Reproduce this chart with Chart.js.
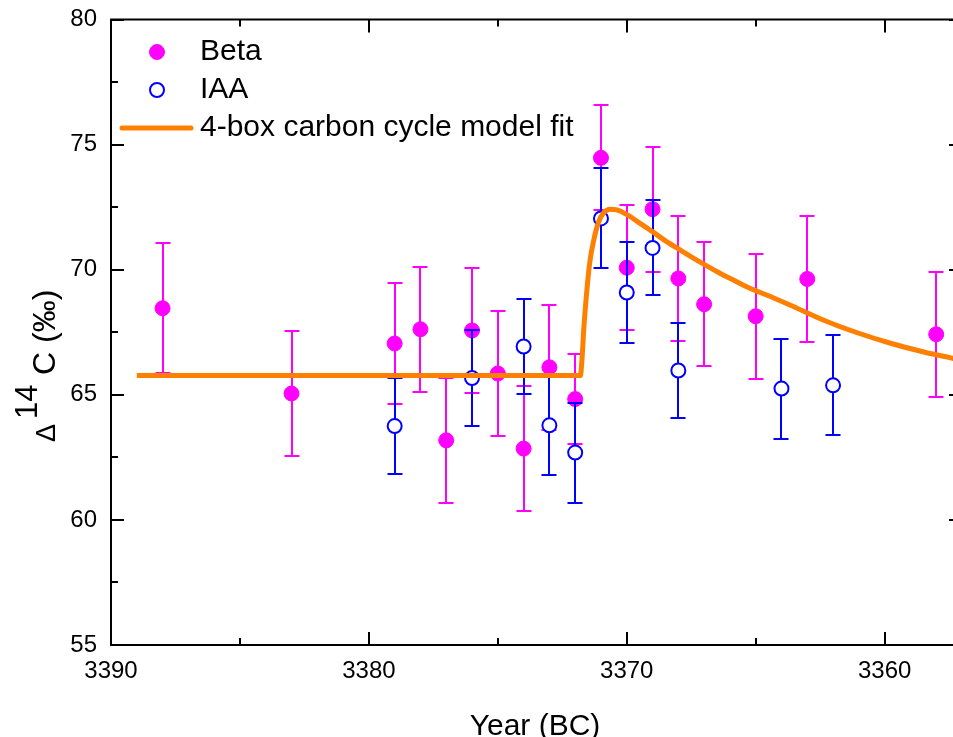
<!DOCTYPE html>
<html>
<head>
<meta charset="utf-8">
<script src="https://cdn.jsdelivr.net/npm/chart.js@4.4.1/dist/chart.umd.min.js"></script>
<style>
  html, body { margin: 0; padding: 0; background: #fff; overflow: hidden; }
  #wrap { width: 971px; height: 737px; }
</style>
</head>
<body>
<div id="wrap"><canvas id="myChart" width="971" height="737"></canvas></div>
<script>
// Beta measurements
var beta_years = [3388, 3383, 3379, 3378, 3377, 3376, 3375, 3374, 3373, 3372, 3371, 3370, 3369, 3368, 3367, 3365, 3363, 3358];
var beta_values = [68.46, 65.05, 67.05, 67.62, 63.18, 67.57, 65.85, 62.85, 66.10, 64.83, 74.47, 70.08, 72.42, 69.65, 68.62, 68.14, 69.63, 67.42];
var beta_errors = [2.6, 2.5, 2.4, 2.5, 2.5, 2.48, 2.5, 2.5, 2.5, 1.8, 2.1, 2.5, 2.5, 2.5, 2.48, 2.5, 2.5, 2.5];

// IAA measurements
var iaa_years = [3379, 3376, 3374, 3373, 3372, 3371, 3370, 3369, 3368, 3364, 3362];
var iaa_values = [63.75, 65.67, 66.93, 63.78, 62.69, 72.05, 69.09, 70.87, 65.97, 65.25, 65.38];
var iaa_errors = [1.92, 1.9, 1.9, 2.0, 2.0, 2.0, 2.0, 1.9, 1.9, 2.0, 2.0];

// 4-box model curve
var model_years = [3389.0, 3371.80, 3371.73, 3371.67, 3371.57, 3371.44, 3371.28, 3371.09, 3370.90, 3370.64, 3370.38,
    3369.99, 3369.47, 3368.96, 3368.44, 3367.92, 3367.40, 3366.88, 3366.37, 3365.85, 3365.33, 3364.82, 3364.30,
    3363.65, 3362.36, 3361.06, 3359.77, 3358.48, 3357.33, 3357.0];
var model_values = [65.77, 65.77, 66.51, 67.58, 68.91, 70.25, 71.18, 71.91, 72.27, 72.42, 72.39,
    72.20, 71.84, 71.49, 71.11, 70.78, 70.45, 70.14, 69.85, 69.58, 69.31, 69.09, 68.87,
    68.58, 67.98, 67.48, 67.06, 66.71, 66.45, 66.36];

// ticks
var x_ticks = [3390, 3380, 3370, 3360];
var x_minor_ticks = [3385, 3375, 3365];
var y_ticks = [55, 60, 65, 70, 75, 80];
var y_minor_ticks = [57.5, 62.5, 67.5, 72.5, 77.5];

var FONT = '"Liberation Sans", Arial, Helvetica, sans-serif';

function toPoints(xs, ys) {
    return xs.map(function (x, i) { return { x: x, y: ys[i] }; });
}

// error bars, drawn under each dataset's markers
var errorBars = {
    id: 'errorBars',
    beforeDatasetDraw: function (chart, args) {
        var ds = chart.data.datasets[args.index];
        if (!ds.errors) return;
        var xs = chart.scales.x, ys = chart.scales.y, ctx = chart.ctx;
        ctx.save();
        ctx.strokeStyle = ds.errorColor;
        ctx.lineWidth = 2;
        ds.data.forEach(function (p, i) {
            var px = Math.round(xs.getPixelForValue(p.x));
            var top = Math.round(ys.getPixelForValue(p.y + ds.errors[i]));
            var bot = Math.round(ys.getPixelForValue(p.y - ds.errors[i]));
            ctx.beginPath();
            ctx.moveTo(px, top); ctx.lineTo(px, bot);
            ctx.moveTo(px - 7.5, top); ctx.lineTo(px + 7.5, top);
            ctx.moveTo(px - 7.5, bot); ctx.lineTo(px + 7.5, bot);
            ctx.stroke();
        });
        ctx.restore();
    }
};

// frame, inward ticks, axis titles and legend
var frame = {
    id: 'frame',
    afterDatasetsDraw: function (chart) {
        var ctx = chart.ctx, a = chart.chartArea;
        var xs = chart.scales.x, ys = chart.scales.y;
        ctx.save();
        ctx.strokeStyle = '#000';
        ctx.lineWidth = 2;
        ctx.strokeRect(a.left, a.top, a.right - a.left, a.bottom - a.top);
        ctx.beginPath();
        function xt(v, len) {
            var px = Math.round(xs.getPixelForValue(v));
            ctx.moveTo(px, a.bottom); ctx.lineTo(px, a.bottom - len);
            ctx.moveTo(px, a.top); ctx.lineTo(px, a.top + len);
        }
        function yt(v, len) {
            var py = Math.round(ys.getPixelForValue(v));
            ctx.moveTo(a.left, py); ctx.lineTo(a.left + len, py);
            ctx.moveTo(a.right, py); ctx.lineTo(a.right - len, py);
        }
        x_ticks.forEach(function (v) { xt(v, 13); });
        x_minor_ticks.forEach(function (v) { xt(v, 7); });
        y_ticks.forEach(function (v) { yt(v, 13); });
        y_minor_ticks.forEach(function (v) { yt(v, 7); });
        ctx.stroke();

        // x title
        ctx.fillStyle = '#000';
        ctx.font = '30px ' + FONT;
        ctx.textAlign = 'center';
        ctx.textBaseline = 'alphabetic';
        ctx.fillText('Year (BC)', 535, 735);

        // y title: Δ14C (‰) with superscript
        ctx.save();
        ctx.translate(55, 442);
        ctx.rotate(-Math.PI / 2);
        ctx.textAlign = 'left';
        ctx.font = '27px ' + FONT;
        ctx.fillText('\u0394', 0, 0);
        ctx.font = '31px ' + FONT;
        ctx.fillText('14', 23, -18);
        ctx.font = '32px ' + FONT;
        ctx.fillText('C (\u2030)', 67, 0);
        ctx.restore();

        // legend
        var rows = [52, 90, 128];
        ctx.font = '30px ' + FONT;
        ctx.textAlign = 'left';
        ctx.textBaseline = 'middle';
        chart.data.datasets.forEach(function (ds, i) {
            var y = rows[i];
            if (ds.showLine) {
                ctx.strokeStyle = ds.borderColor;
                ctx.lineWidth = ds.borderWidth;
                ctx.lineCap = 'round';
                ctx.beginPath();
                ctx.moveTo(122, y); ctx.lineTo(191, y);
                ctx.stroke();
            } else {
                ctx.beginPath();
                ctx.arc(157, y, ds.pointRadius, 0, Math.PI * 2);
                ctx.fillStyle = ds.pointBackgroundColor;
                ctx.fill();
                ctx.lineWidth = ds.pointBorderWidth;
                ctx.strokeStyle = ds.pointBorderColor;
                ctx.stroke();
            }
            ctx.fillStyle = '#000';
            ctx.fillText(ds.label, 200, y);
        });
        ctx.restore();
    }
};

var ctx = document.getElementById('myChart');
var myChart = new Chart(ctx, {
    type: 'scatter',
    data: {
        datasets: [
            {
                label: 'Beta',
                data: toPoints(beta_years, beta_values),
                errors: beta_errors,
                errorColor: '#ff00ff',
                pointRadius: 7.5,
                pointBackgroundColor: '#ff00ff',
                pointBorderColor: '#ff00ff',
                pointBorderWidth: 1,
                showLine: false,
                order: 3
            },
            {
                label: 'IAA',
                data: toPoints(iaa_years, iaa_values),
                errors: iaa_errors,
                errorColor: '#0000ff',
                pointRadius: 7,
                pointBackgroundColor: '#ffffff',
                pointBorderColor: '#0000ff',
                pointBorderWidth: 2,
                showLine: false,
                order: 2
            },
            {
                label: '4-box carbon cycle model fit',
                data: toPoints(model_years, model_values),
                borderColor: '#ff7f00',
                backgroundColor: 'rgba(0,0,0,0)',
                borderWidth: 5,
                pointRadius: 0,
                showLine: true,
                cubicInterpolationMode: 'monotone',
                order: 1
            }
        ]
    },
    options: {
        responsive: false,
        animation: false,
        events: [],
        devicePixelRatio: 1,
        layout: { padding: { left: 0, top: 19.5, right: 2.6, bottom: 0 } },
        plugins: {
            legend: { display: false },
            tooltip: { enabled: false }
        },
        scales: {
            x: {
                type: 'linear',
                reverse: true,
                min: 3357,
                max: 3390,
                grid: { display: false, drawTicks: false },
                border: { display: false },
                afterFit: function (scale) {
                    scale.height = 92;
                    scale.paddingLeft = 0;
                    scale.paddingRight = 0;
                },
                afterBuildTicks: function (scale) {
                    scale.ticks = x_ticks.map(function (v) { return { value: v }; });
                },
                ticks: {
                    padding: 12,
                    color: '#000',
                    font: { family: FONT, size: 24 },
                    callback: function (v) { return String(v); }
                }
            },
            y: {
                type: 'linear',
                min: 55,
                max: 80,
                grid: { display: false, drawTicks: false },
                border: { display: false },
                afterFit: function (scale) {
                    scale.width = 111;
                    scale.paddingTop = 0;
                    scale.paddingBottom = 0;
                },
                afterBuildTicks: function (scale) {
                    scale.ticks = y_ticks.map(function (v) { return { value: v }; });
                },
                ticks: {
                    padding: 14,
                    color: '#000',
                    font: { family: FONT, size: 24 },
                    callback: function (v) { return String(v); }
                }
            }
        }
    },
    plugins: [errorBars, frame]
});
</script>
</body>
</html>
